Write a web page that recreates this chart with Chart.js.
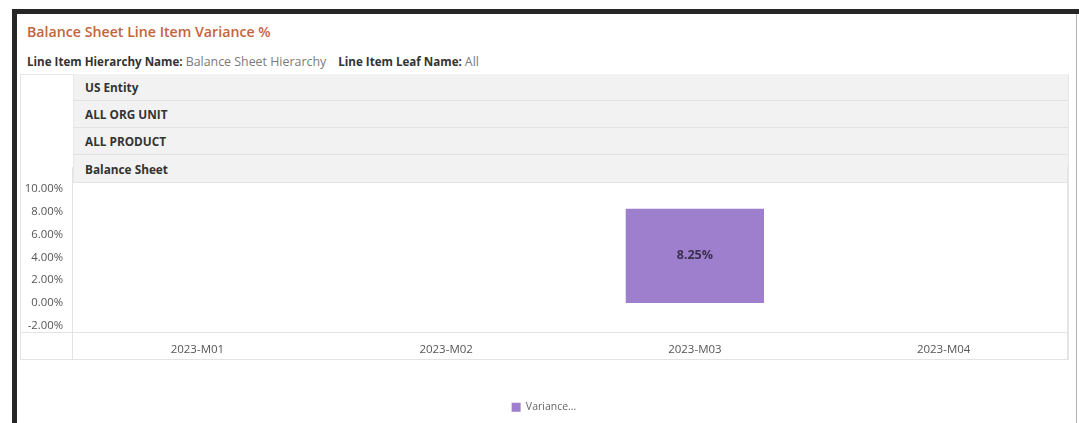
<!DOCTYPE html>
<html>
<head>
<meta charset="utf-8">
<script src="https://cdn.jsdelivr.net/npm/chart.js@4.4.1/dist/chart.umd.min.js"></script>
<style>
  html, body { margin:0; padding:0; background:#fff; }
  body { width:1079px; height:423px; position:relative; overflow:hidden; font-family:"Open Sans","Noto Sans",sans-serif; }
  .abs { position:absolute; }
  #topbar { left:12px; top:9px; width:1067px; height:5px; background:#262626; }
  #leftbar { left:12px; top:9px; width:5px; height:414px; background:#262626; }
  #rightline { left:1076px; top:14px; width:1px; height:409px; background:#b4b4b4; }
  #title { left:27px; top:22px; font-size:14.2px; font-weight:600; color:#c4643c; white-space:nowrap; }
  #sub { left:27px; top:53px; font-size:11.6px; color:#333; white-space:nowrap; }
  #sub b { font-weight:700; color:#333; }
  #sub span.v { color:#7a7a7a; font-size:12.4px; }
  #frame { left:20px; top:74px; width:1047px; height:285px; border:1px solid #e6e6e6; border-bottom:none; }
  #leftcell { left:20px; top:74px; width:53px; height:109px; border-right:1px solid #e6e6e6; }
  .row { position:absolute; left:74px; width:994px; background:#f2f2f2; border-bottom:1px solid #e2e2e2; box-sizing:border-box;
         font-size:11.8px; font-weight:700; color:#333; padding-left:11px; display:flex; align-items:center; }
  #chartbox { position:absolute; left:20px; top:167px; width:1048px; height:253px; }
</style>
</head>
<body>
<div id="topbar" class="abs"></div>
<div id="leftbar" class="abs"></div>
<div id="rightline" class="abs"></div>
<div id="title" class="abs">Balance Sheet Line Item Variance %</div>
<div id="sub" class="abs"><b>Line Item Hierarchy Name:</b> <span class="v">Balance Sheet Hierarchy</span>&nbsp;&nbsp;&nbsp; <b>Line Item Leaf Name:</b> <span class="v">All</span></div>
<div id="frame" class="abs"></div>
<div id="leftcell" class="abs"></div>
<div id="rows"></div>
<div id="chartbox"><canvas id="c" width="1048" height="253"></canvas></div>
<script>
const headerRows = ['US Entity', 'ALL ORG UNIT', 'ALL PRODUCT', 'Balance Sheet'];
const categories = ['2023-M01', '2023-M02', '2023-M03', '2023-M04'];
const variance = [null, null, 8.25, null];
const yTicks = [-2, 0, 2, 4, 6, 8, 10];
const seriesName = 'Variance...';

// header rows
const rowTops = [74, 101, 128, 155];
const rowHeights = [27, 27, 27, 28];
const rowsDiv = document.getElementById('rows');
headerRows.forEach((t, i) => {
  const d = document.createElement('div');
  d.className = 'row';
  d.style.top = rowTops[i] + 'px';
  d.style.height = rowHeights[i] + 'px';
  d.textContent = t;
  rowsDiv.appendChild(d);
});

const LEGEND_HEIGHT = 60;
const lineColor = '#e3e3e3';
const framePlugin = {
  id: 'frame',
  beforeUpdate(chart) {
    const lg = chart.legend;
    if (lg && !lg._fixedFit) {
      const orig = lg.fit;
      lg.fit = function () { orig.call(this); this.height = LEGEND_HEIGHT; };
      lg._fixedFit = true;
    }
  },
  beforeDraw(chart) {
    const { ctx, chartArea, width } = chart;
    const xs = chart.scales.x;
    ctx.save();
    ctx.strokeStyle = lineColor;
    ctx.lineWidth = 1;
    ctx.beginPath();
    ctx.moveTo(0, Math.round(chartArea.bottom) + 0.5);
    ctx.lineTo(width, Math.round(chartArea.bottom) + 0.5);
    ctx.moveTo(0, Math.round(xs.bottom) - 0.5);
    ctx.lineTo(width, Math.round(xs.bottom) - 0.5);
    ctx.moveTo(Math.round(chartArea.left) - 0.5, 0);
    ctx.lineTo(Math.round(chartArea.left) - 0.5, Math.round(xs.bottom));
    ctx.moveTo(0.5, 0);
    ctx.lineTo(0.5, Math.round(xs.bottom));
    ctx.moveTo(width - 0.5, 0);
    ctx.lineTo(width - 0.5, Math.round(xs.bottom));
    ctx.stroke();
    ctx.restore();
  }
};
const labelPlugin = {
  id: 'barLabels',
  afterDatasetsDraw(chart) {
    const { ctx } = chart;
    chart.data.datasets.forEach((ds, di) => {
      chart.getDatasetMeta(di).data.forEach((el, i) => {
        const v = ds.data[i];
        if (v === null || v === undefined) return;
        ctx.save();
        ctx.font = '700 12.5px "Open Sans", sans-serif';
        ctx.fillStyle = '#3a3050';
        ctx.textAlign = 'center';
        ctx.textBaseline = 'middle';
        ctx.fillText(v.toFixed(2) + '%', el.x, (el.y + el.base) / 2);
        ctx.restore();
      });
    });
  }
};

new Chart(document.getElementById('c'), {
  type: 'bar',
  data: {
    labels: categories,
    datasets: [{
      label: seriesName,
      data: variance,
      backgroundColor: '#9d7fcd',
      borderWidth: 0,
      barPercentage: 0.556,
      categoryPercentage: 1.0
    }]
  },
  options: {
    responsive: false,
    animation: false,
    layout: { padding: { left: 0, right: 0, top: 0, bottom: 0 } },
    plugins: {
      legend: {
        position: 'bottom',
        labels: {
          boxWidth: 9, boxHeight: 9, padding: 42,
          color: '#666',
          font: { family: '"Open Sans", sans-serif', size: 10.5 }
        }
      },
      tooltip: { enabled: false }
    },
    scales: {
      x: {
        grid: { display: false, drawTicks: false },
        border: { display: false },
        ticks: { color: '#555', font: { family: '"Open Sans", sans-serif', size: 11.5 }, padding: 11 },
        afterFit(s) { s.height = 28; }
      },
      y: {
        min: -2.55,
        max: 10.45,
        grid: { display: false, drawTicks: false },
        border: { display: false },
        afterBuildTicks(s) { s.ticks = yTicks.map(v => ({ value: v })); },
        ticks: {
          color: '#555',
          font: { family: '"Open Sans", sans-serif', size: 11.3 },
          padding: 10,
          callback: v => v.toFixed(2) + '%'
        },
        afterFit(s) { s.width = 53; }
      }
    }
  },
  plugins: [framePlugin, labelPlugin]
});
</script>
</body>
</html>
